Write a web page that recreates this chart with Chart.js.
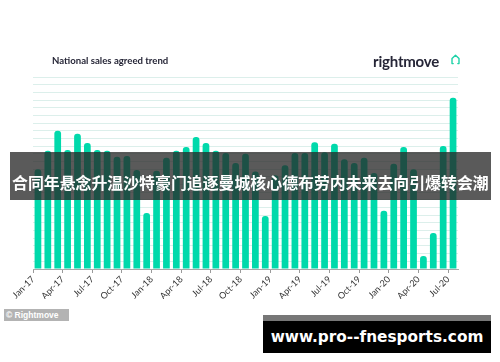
<!DOCTYPE html>
<html>
<head>
<meta charset="utf-8">
<script src="https://cdn.jsdelivr.net/npm/chart.js@4/dist/chart.umd.min.js"></script>
<style>
  html, body { margin: 0; padding: 0; background: #fff; }
  #wrap { position: relative; width: 500px; height: 362px; overflow: hidden; }
  #myChart { position: absolute; left: 0; top: 0; }
  .titulo { position: absolute; left: 52px; top: 55px; font: bold 9.6px Lato, sans-serif; color: #262637; }
  .logo { position: absolute; left: 373px; top: 52px; font: bold 15px Lato, sans-serif; color: #262637; letter-spacing: -0.2px; }
  .casa { position: absolute; left: 451px; top: 54px; }
  .banda { position: absolute; left: 10px; top: 152px; width: 481px; height: 48px; background: rgba(38,38,38,0.76); }
  #textoBanda { position: absolute; left: 2px; top: 19px; color: #fff; font-weight: bold; font-size: 17.6px; font-family: "Noto Sans CJK SC", sans-serif; line-height: 24px; white-space: nowrap; }
  .credito { position: absolute; left: 4px; top: 309px; width: 65px; height: 12px; background: #b3b3b3; color: #fff; font: bold 8.5px "Liberation Sans", Arial, sans-serif; line-height: 12px; padding-left: 2px; box-sizing: border-box; }
  .marca { position: absolute; left: 263px; top: 315px; width: 228px; height: 38px; background: #000; border-top: 6px solid #777; box-sizing: border-box; }
  .marca span { position: absolute; left: 0; right: 0; top: 5px; text-align: center; color: #fff; font: bold 15.3px "DejaVu Sans", Verdana, sans-serif; line-height: 22px; }
</style>
</head>
<body>
<div id="wrap">
  <canvas id="myChart" width="500" height="362"></canvas>
  <div class="titulo">National sales agreed trend</div>
  <div class="logo">rightmove</div>
  <svg class="casa" width="9" height="11" viewBox="0 0 9 11"><path d="M2.2 9.6 L1 9.6 L1 4.6 L4.5 1.2 L8 4.6 L8 9.6 L6.8 9.6" fill="none" stroke="#1ed2a8" stroke-width="1.4" stroke-linejoin="round" stroke-linecap="round"/></svg>
  <div class="banda"><span id="textoBanda">合同年悬念升温沙特豪门追逐曼城核心德布劳内未来去向引爆转会潮</span></div>
  <div class="credito">© Rightmove</div>
  <div class="marca"><span>www.pro--fnesports.com</span></div>
</div>
<script>
// meses (categorias)
const meses = ['Jan-17','Feb-17','Mar-17','Apr-17','May-17','Jun-17','Jul-17','Aug-17','Sep-17','Oct-17','Nov-17','Dec-17',
  'Jan-18','Feb-18','Mar-18','Apr-18','May-18','Jun-18','Jul-18','Aug-18','Sep-18','Oct-18','Nov-18','Dec-18',
  'Jan-19','Feb-19','Mar-19','Apr-19','May-19','Jun-19','Jul-19','Aug-19','Sep-19','Oct-19','Nov-19','Dec-19',
  'Jan-20','Feb-20','Mar-20','Apr-20','May-20','Jun-20','Jul-20'];

// etiquetas que se ven en el eje x
const etiquetasEje = ['Jan-17','Apr-17','Jul-17','Oct-17','Jan-18','Apr-18','Jul-18','Oct-18',
  'Jan-19','Apr-19','Jul-19','Oct-19','Jan-20','Apr-20','Jul-20'];

// ventas acordadas (indice)
const ventas = [13.0, 15.4, 18.0, 15.5, 17.6, 16.4, 15.5, 15.4, 14.6, 14.7, 12.9, 7.3,
  12.8, 14.5, 15.4, 15.9, 17.2, 16.4, 15.4, 15.1, 13.8, 15.0, 12.7, 6.9,
  12.2, 13.5, 15.1, 15.1, 16.5, 15.2, 16.3, 14.3, 13.8, 14.5, 12.5, 7.6,
  13.7, 15.9, 13.0, 1.7, 4.7, 16.0, 22.3];

const ejeMax = 25;
const colorBarra = '#00d9ab';

// ajustar el texto de la banda al ancho
const tb = document.getElementById('textoBanda');
const anchoObjetivo = 477;
tb.style.fontSize = (17.6 * anchoObjetivo / tb.getBoundingClientRect().width) + 'px';

const config = {
  type: 'bar',
  data: {
    labels: meses,
    datasets: [{
      data: ventas,
      backgroundColor: colorBarra,
      barPercentage: 0.68,
      categoryPercentage: 1,
      borderRadius: { topLeft: 3, topRight: 3 },
      borderSkipped: 'bottom'
    }]
  },
  options: {
    responsive: false,
    animation: false,
    layout: { padding: { left: 33, right: 42, top: 77, bottom: 63 } },
    plugins: { legend: { display: false }, tooltip: { enabled: false } },
    scales: {
      x: {
        afterFit: (s) => { s.height = 30; },
        grid: {
          offset: true,
          drawOnChartArea: false,
          tickLength: 4,
          tickColor: (ctx) => etiquetasEje.includes(meses[ctx.index]) ? '#9a9a9a' : 'rgba(0,0,0,0)'
        },
        border: { color: '#a8a8a8', width: 1 },
        ticks: {
          autoSkip: false,
          minRotation: 45,
          maxRotation: 45,
          labelOffset: -4.9,
          padding: 1,
          color: '#333',
          font: { size: 9, family: 'Lato, sans-serif' },
          callback: (v, i) => etiquetasEje.includes(meses[i]) ? meses[i] : ''
        }
      },
      y: {
        min: 0,
        max: ejeMax,
        afterFit: (s) => { s.width = 0; },
        ticks: { display: false, stepSize: 1 },
        grid: { color: '#dcefeb', drawTicks: false },
        border: { display: false }
      }
    }
  }
};

new Chart(document.getElementById('myChart'), config);
</script>
</body>
</html>
